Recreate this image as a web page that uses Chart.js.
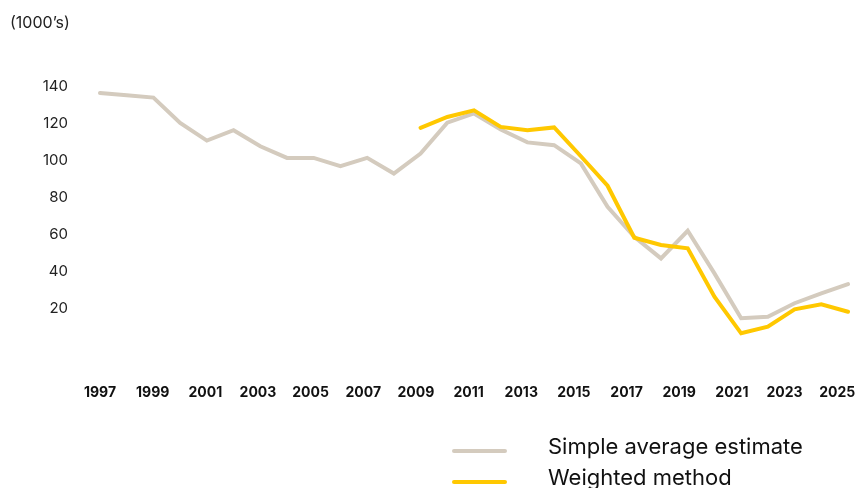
<!DOCTYPE html>
<html>
<head>
<meta charset="utf-8">
<script src="https://cdn.jsdelivr.net/npm/chart.js@4"></script>
<style>
  html, body { margin: 0; padding: 0; background: #ffffff; }
  #wrap { position: relative; width: 860px; height: 488px; overflow: hidden; font-family: Inter, "Noto Sans", sans-serif; }
  #chart { position: absolute; left: 0; top: 0; }
  #unit { position: absolute; left: 10px; top: 12px; font-size: 16px; color: #222; line-height: 20px; }
  #legend { position: absolute; left: 450px; top: 432px; }
  .item { position: relative; height: 31px; }
  .swatch { position: absolute; left: 2px; width: 55px; height: 4px; border-radius: 2px; }
  .label { position: absolute; left: 98px; top: 0; font-size: 22px; line-height: 28px; color: #111; white-space: nowrap; }
</style>
</head>
<body>
<div id="wrap">
  <canvas id="chart" width="860" height="488"></canvas>
  <div id="unit">(1000’s)</div>
  <div id="legend"></div>
</div>
<script>
// Years along the horizontal axis
const years = [1997, 1998, 1999, 2000, 2001, 2002, 2003, 2004, 2005, 2006, 2007, 2008, 2009, 2010,
               2011, 2012, 2013, 2014, 2015, 2016, 2017, 2018, 2019, 2020, 2021, 2022, 2023, 2024, 2025];

// Labelled years on the axis (every second year)
const tickYears = [1997, 1999, 2001, 2003, 2005, 2007, 2009, 2011, 2013, 2015, 2017, 2019, 2021, 2023, 2025];

// Labelled values on the vertical axis
const yTicks = [20, 40, 60, 80, 100, 120, 140];

// Series names
const seriesNames = ['Simple average estimate', 'Weighted method'];

// Simple average estimate, in thousands
const simpleAverage = [136.7, 135.5, 134.2, 120.5, 110.9, 116.5, 107.8, 101.5, 101.5, 97.0, 101.5, 93.0, 103.9, 120.6,
                       125.6, 116.9, 109.9, 108.4, 98.5, 75.0, 58.7, 47.0, 62.0, 38.9, 14.6, 15.4, 22.7, 28.1, 33.1];

// Weighted method, in thousands (available from 2009)
const weighted = [null, null, null, null, null, null, null, null, null, null, null, null, 117.8, 123.7,
                  127.3, 118.3, 116.5, 118.0, 102.4, 86.4, 58.2, 54.3, 52.5, 26.3, 6.4, 10.0, 19.4, 22.1, 18.1];

const colors = ['#d4cbbe', '#ffc800'];

const ctx = document.getElementById('chart').getContext('2d');
const chart = new Chart(ctx, {
  type: 'line',
  data: {
    labels: years.map(String),
    datasets: [
      {
        label: seriesNames[0],
        data: simpleAverage,
        borderColor: colors[0],
        backgroundColor: colors[0],
        borderWidth: 4,
        pointRadius: 0,
        tension: 0,
        borderCapStyle: 'round',
        borderJoinStyle: 'miter',
        order: 1
      },
      {
        label: seriesNames[1],
        data: weighted,
        borderColor: colors[1],
        backgroundColor: colors[1],
        borderWidth: 4,
        pointRadius: 0,
        tension: 0,
        borderCapStyle: 'round',
        borderJoinStyle: 'miter',
        order: 0
      }
    ]
  },
  options: {
    responsive: false,
    animation: false,
    events: [],
    layout: { padding: { top: 50, right: 12, bottom: 0, left: 0 } },
    plugins: {
      legend: { display: false },
      tooltip: { enabled: false },
      title: { display: false }
    },
    scales: {
      x: {
        type: 'category',
        offset: false,
        display: false
      },
      years: {
        type: 'linear',
        position: 'bottom',
        min: 1997,
        max: 2025.41,
        grid: { display: false, drawTicks: false },
        border: { display: false },
        afterBuildTicks: (scale) => { scale.ticks = tickYears.map(v => ({ value: v })); },
        afterFit: (scale) => { scale.height = 106; },
        ticks: {
          autoSkip: false,
          maxRotation: 0,
          padding: 2,
          color: '#111',
          font: { family: 'Inter', size: 14, weight: 'bold' },
          callback: (v) => String(v)
        }
      },
      y: {
        type: 'linear',
        min: -20,
        max: 160,
        grid: { display: false, drawTicks: false },
        border: { display: false },
        afterBuildTicks: (scale) => { scale.ticks = yTicks.map(v => ({ value: v })); },
        afterFit: (scale) => { scale.width = 100; },
        ticks: {
          padding: 32,
          color: '#222',
          font: { family: 'Inter', size: 15 },
          callback: (v) => String(v)
        }
      }
    }
  }
});

// Legend, one row per series
const legend = document.getElementById('legend');
chart.data.datasets.forEach((ds) => {
  const item = document.createElement('div');
  item.className = 'item';
  const sw = document.createElement('div');
  sw.className = 'swatch';
  sw.style.background = ds.borderColor;
  sw.style.top = '17px';
  const lb = document.createElement('div');
  lb.className = 'label';
  lb.textContent = ds.label;
  item.appendChild(sw);
  item.appendChild(lb);
  legend.appendChild(item);
});
</script>
</body>
</html>
